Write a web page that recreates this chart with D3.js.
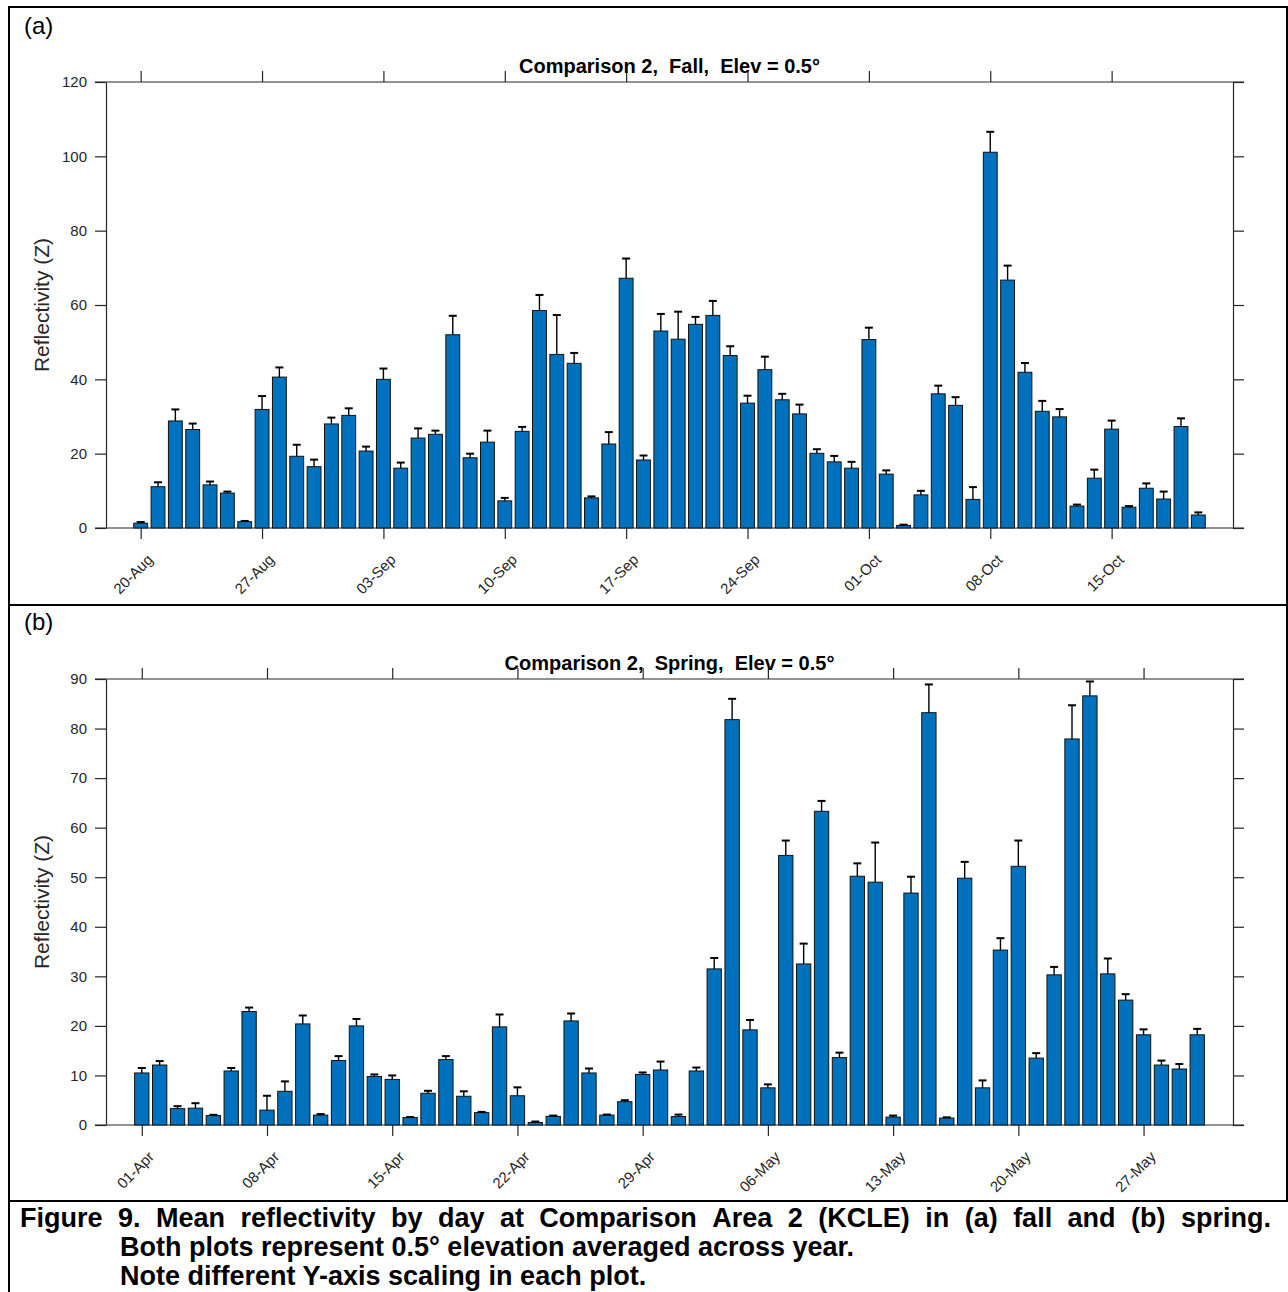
<!DOCTYPE html>
<html><head><meta charset="utf-8">
<script src="https://cdn.jsdelivr.net/npm/d3@7"></script>
<style>
body{margin:0;background:#fff}
svg{display:block}
text{font-family:"Liberation Sans",Arial,Helvetica,sans-serif}
</style>
</head><body>
<svg id="c" width="1288" height="1292"></svg>
<script>
// ---------- DATA ----------
const fallValues = [1.3,11.1,28.8,26.5,11.6,9.4,1.7,31.9,40.6,19.3,16.5,28.0,30.3,20.7,40.0,16.1,24.2,25.2,52.0,18.9,23.1,7.3,26.0,58.5,46.7,44.3,8.1,22.6,67.2,18.3,53.0,50.8,54.8,57.2,46.4,33.6,42.6,34.5,30.7,20.1,17.8,16.1,50.7,14.5,0.7,8.9,36.1,33.0,7.7,101.1,66.7,41.9,31.4,29.9,5.9,13.4,26.6,5.6,10.7,7.8,27.3,3.5];
const fallErrors = [0.3,1.2,3.1,1.6,0.9,0.4,0.2,3.6,2.6,3.1,1.9,1.7,1.9,1.2,2.9,1.5,2.6,1.0,5.1,1.1,3.1,0.8,1.2,4.2,10.6,2.8,0.4,3.2,5.3,1.2,4.6,7.4,2.0,3.9,2.5,2.0,3.5,1.6,2.5,1.1,1.6,1.7,3.2,1.0,0.2,1.1,2.2,2.2,3.3,5.5,3.9,2.5,2.8,2.1,0.4,2.3,2.3,0.3,1.3,2.0,2.2,0.7];
const fallTickDays = [0,7,14,21,28,35,42,49,56];
const fallTickLabels = ["20-Aug","27-Aug","03-Sep","10-Sep","17-Sep","24-Sep","01-Oct","08-Oct","15-Oct"];
const fallYTicks = [0,20,40,60,80,100,120];

const springValues = [10.5,12.1,3.3,3.4,1.9,10.9,22.9,3.0,6.8,20.4,2.0,13.0,20.0,9.8,9.2,1.5,6.4,13.2,5.8,2.5,19.8,5.9,0.5,1.75,21.0,10.5,2.0,4.7,10.2,11.1,1.7,10.9,31.5,81.8,19.2,7.5,54.4,32.5,63.3,13.6,50.2,49.0,1.6,46.8,83.2,1.4,49.8,7.5,35.3,52.2,13.5,30.3,77.9,86.6,30.5,25.2,18.2,12.1,11.3,18.2];
const springErrors = [1.0,0.8,0.5,1.0,0.15,0.6,0.8,2.9,2.0,1.7,0.2,0.9,1.4,0.4,0.8,0.1,0.5,0.7,1.0,0.15,2.5,1.7,0.2,0.15,1.5,0.9,0.1,0.3,0.4,1.7,0.4,0.7,2.2,4.2,2.0,0.7,3.0,4.1,2.1,1.0,2.6,8.0,0.3,3.3,5.7,0.15,3.3,1.5,2.4,5.2,1.0,1.6,6.8,2.9,3.1,1.2,1.1,0.9,1.0,1.2];
const springTickDays = [0,7,14,21,28,35,42,49,56];
const springTickLabels = ["01-Apr","08-Apr","15-Apr","22-Apr","29-Apr","06-May","13-May","20-May","27-May"];
const springYTicks = [0,10,20,30,40,50,60,70,80,90];

const titles = ["Comparison 2,  Fall,  Elev = 0.5\u00B0", "Comparison 2,  Spring,  Elev = 0.5\u00B0"];
const panelLabels = ["(a)", "(b)"];
const yLabel = "Reflectivity (Z)";
const captionLines = [
  "Figure 9. Mean reflectivity by day at Comparison Area 2 (KCLE) in (a) fall and (b) spring.",
  "Both plots represent 0.5\u00B0 elevation averaged across year.",
  "Note different Y-axis scaling in each plot."
];

// ---------- DRAW ----------
const svg = d3.select("#c");
const AX = "#262626";
const BAR = "#0072BD";
const L = 106, R = 1233, TL = 11;

function panel(o){
  const g = svg.append("g");
  const n = o.values.length;
  const x = d3.scaleLinear().domain([-2, n + 1]).range([L, R]);
  const y = d3.scaleLinear().domain([0, o.yMax]).range([o.bottom, o.top]);
  const step = x(1) - x(0);
  const bw = step * 0.8;

  // axes
  const ax = g.append("g").attr("transform", `translate(${L},0)`)
    .call(d3.axisLeft(y).tickValues(o.yTicks).tickSize(TL).tickSizeOuter(0).tickPadding(8));
  const ar = g.append("g").attr("transform", `translate(${R},0)`)
    .call(d3.axisRight(y).tickValues(o.yTicks).tickSize(TL).tickSizeOuter(0).tickFormat(""));
  const ab = g.append("g").attr("transform", `translate(0,${o.bottom})`)
    .call(d3.axisBottom(x).tickValues(o.tickDays).tickSize(TL).tickSizeOuter(0)
      .tickFormat((d,i)=>o.tickLabels[i]));
  const at = g.append("g").attr("transform", `translate(0,${o.top})`)
    .call(d3.axisTop(x).tickValues(o.tickDays).tickSize(TL).tickSizeOuter(0).tickFormat(""));
  [ab, at].forEach(a => a.select(".domain").attr("d", `M${L-TL},0H${R+TL}`));
  [ax, ar, ab, at].forEach(a => {
    a.selectAll("path,line").attr("stroke", AX).attr("stroke-width", 1.2);
    a.selectAll("text").attr("fill", AX).style("font-size", "15px")
      .style("font-family", '"Liberation Sans",Arial,sans-serif');
  });
  ab.selectAll("text").attr("x", 0).attr("y", 0).attr("dy", "0.35em")
    .attr("text-anchor", "end").attr("transform", "translate(9,29) rotate(-45)");

  // bars
  g.append("g").selectAll("rect").data(o.values).join("rect")
    .attr("x", (d,i) => x(i) - bw/2)
    .attr("y", d => y(d))
    .attr("width", bw)
    .attr("height", d => o.bottom - y(d))
    .attr("fill", BAR).attr("stroke", "#111").attr("stroke-width", 1);

  // error bars (upper only)
  const eg = g.append("g").attr("stroke", "#000").attr("stroke-width", 1.4);
  o.values.forEach((v,i) => {
    const e = o.errors[i];
    eg.append("line").attr("x1", x(i)).attr("x2", x(i)).attr("y1", y(v)).attr("y2", y(v+e));
    eg.append("line").attr("x1", x(i)-4).attr("x2", x(i)+4).attr("y1", y(v+e)).attr("y2", y(v+e))
      .attr("stroke-width", 2);
  });

  // title
  g.append("text").attr("x", (L+R)/2).attr("y", o.top - 9).attr("text-anchor", "middle")
    .style("font-size", "20px").style("font-weight", "bold").style("white-space", "pre")
    .attr("fill", "#000").text(o.title);
  // y label
  g.append("text").attr("transform", `translate(49,${(o.top+o.bottom)/2}) rotate(-90)`)
    .attr("text-anchor", "middle").style("font-size", "21px").attr("fill", AX).text(yLabel);
  // panel label
  g.append("text").attr("x", 24).attr("y", o.labelY).style("font-size", "24px")
    .attr("fill", "#000").text(o.panelLabel);
}

panel({values: fallValues, errors: fallErrors, tickDays: fallTickDays, tickLabels: fallTickLabels,
  yMax: 120, yTicks: fallYTicks, top: 82, bottom: 528, title: titles[0], panelLabel: panelLabels[0], labelY: 34});
panel({values: springValues, errors: springErrors, tickDays: springTickDays, tickLabels: springTickLabels,
  yMax: 90, yTicks: springYTicks, top: 679, bottom: 1125, title: titles[1], panelLabel: panelLabels[1], labelY: 630});

// frame
const fr = svg.append("g").attr("stroke", "#000").attr("stroke-width", 2);
fr.append("line").attr("x1", 8).attr("x2", 1288).attr("y1", 7).attr("y2", 7);
fr.append("line").attr("x1", 9).attr("x2", 9).attr("y1", 6).attr("y2", 1292);
fr.append("line").attr("x1", 1287).attr("x2", 1287).attr("y1", 6).attr("y2", 1201);
fr.append("line").attr("x1", 8).attr("x2", 1288).attr("y1", 605).attr("y2", 605);
fr.append("line").attr("x1", 8).attr("x2", 1288).attr("y1", 1201).attr("y2", 1201);

// caption
const cap = svg.append("g").style("font-size", "27px").style("font-weight", "bold").attr("fill", "#000");
(function justify(line, x0, x1, yb){
  const words = line.split(" ");
  const tmp = words.map(w => cap.append("text").attr("y", yb).text(w));
  const widths = tmp.map(t => t.node().getComputedTextLength());
  const total = d3.sum(widths);
  const gap = (x1 - x0 - total) / (words.length - 1);
  let cx = x0;
  tmp.forEach((t,i) => { t.attr("x", cx); cx += widths[i] + gap; });
})(captionLines[0], 20, 1271, 1227);
cap.append("text").attr("x", 120).attr("y", 1256).text(captionLines[1]);
cap.append("text").attr("x", 120).attr("y", 1285).text(captionLines[2]);
</script>
</body></html>
